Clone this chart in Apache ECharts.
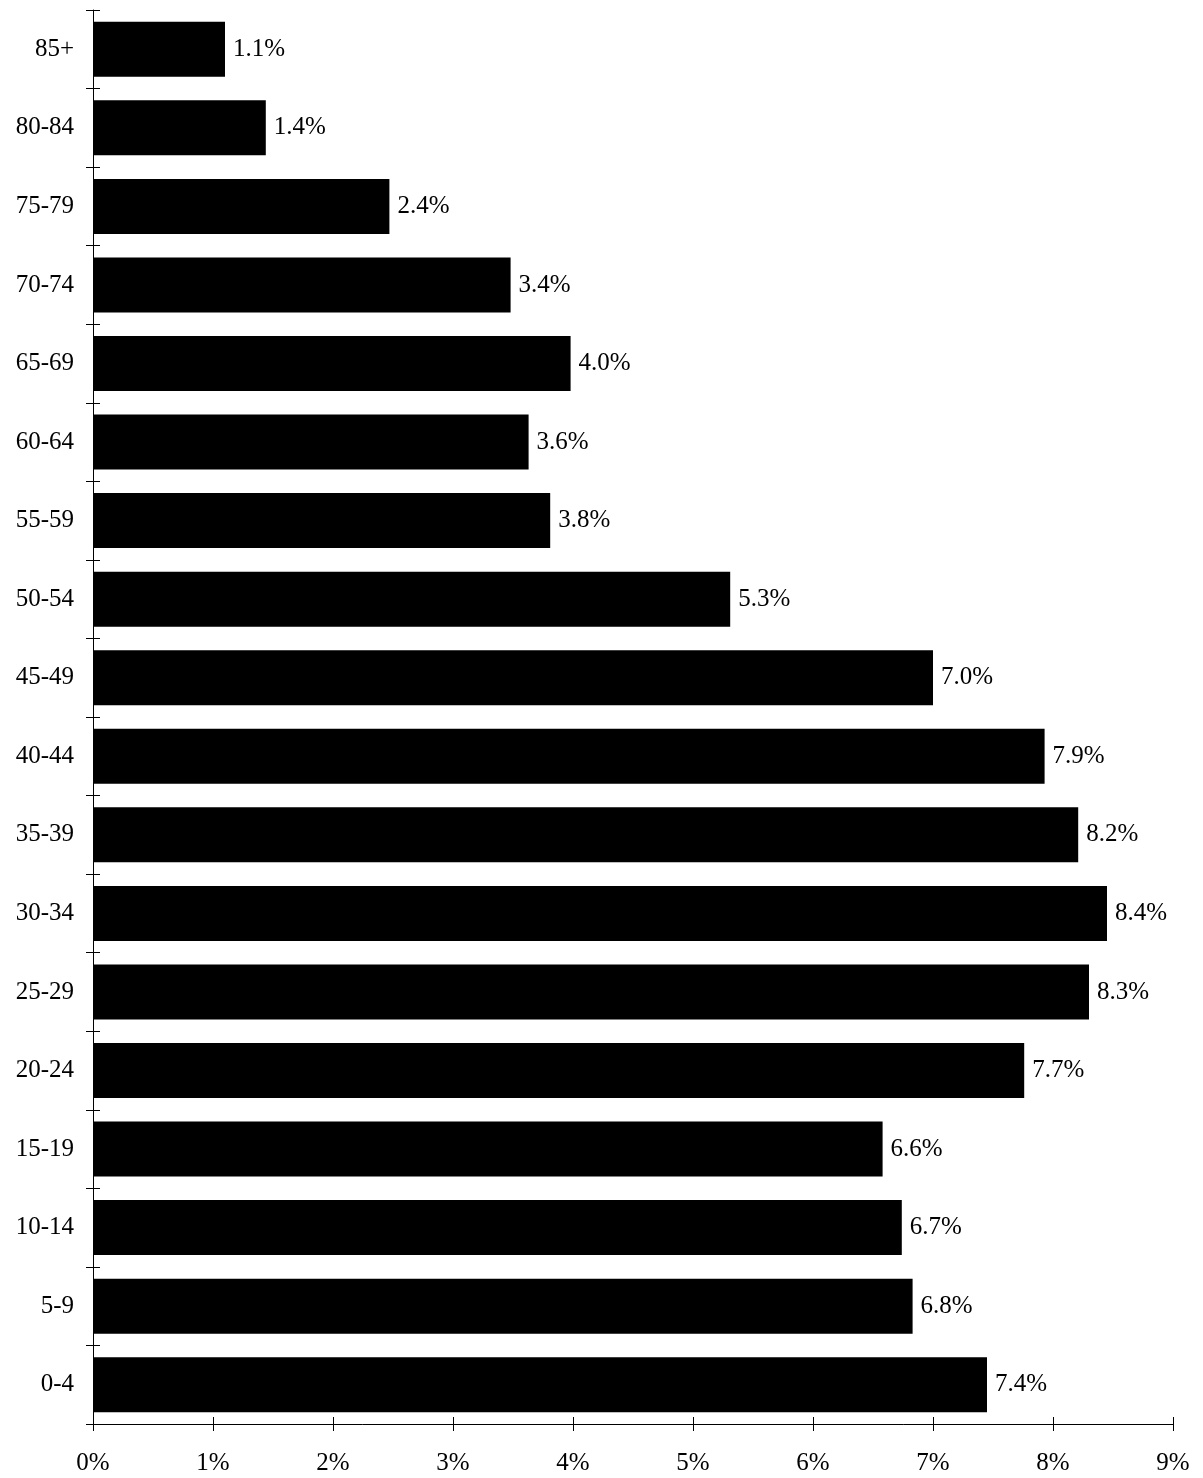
<!DOCTYPE html>
<html><head><meta charset="utf-8">
<script src="https://cdn.jsdelivr.net/npm/echarts@6/dist/echarts.min.js"></script>
<style>html,body{margin:0;padding:0;background:#fff}#c{width:1203px;height:1478px}</style>
</head><body><div id="c"></div>
<script>
const categories = ['0-4','5-9','10-14','15-19','20-24','25-29','30-34','35-39','40-44','45-49','50-54','55-59','60-64','65-69','70-74','75-79','80-84','85+'];
const values = [7.45,6.83,6.74,6.58,7.76,8.3,8.45,8.21,7.93,7.0,5.31,3.81,3.63,3.98,3.48,2.47,1.44,1.1];
const valueLabels = ['7.4%','6.8%','6.7%','6.6%','7.7%','8.3%','8.4%','8.2%','7.9%','7.0%','5.3%','3.8%','3.6%','4.0%','3.4%','2.4%','1.4%','1.1%'];
const xTicks = [0,1,2,3,4,5,6,7,8,9];

const font = '"Liberation Serif","DejaVu Serif",serif';
const chart = echarts.init(document.getElementById('c'));
const lineStyle = {color:'#000', width:1};
chart.setOption({
  animation:false,
  backgroundColor:'#fff',
  grid:{left:93,right:30,top:10,bottom:54,containLabel:false},
  xAxis:[
    {type:'value',min:xTicks[0],max:xTicks[xTicks.length-1],interval:1,position:'bottom',
     axisLine:{show:true,lineStyle},axisTick:{show:true,length:7,lineStyle},
     splitLine:{show:false},
     axisLabel:{formatter:v=>v+'%',fontFamily:font,fontSize:25,color:'#000',margin:27}},
    {type:'value',min:xTicks[0],max:xTicks[xTicks.length-1],interval:1,position:'bottom',
     axisLine:{show:false},axisTick:{show:true,inside:true,length:7,lineStyle},
     splitLine:{show:false},axisLabel:{show:false}}
  ],
  yAxis:[
    {type:'category',data:categories,position:'left',
     axisLine:{show:true,lineStyle},axisTick:{show:true,length:7,lineStyle},
     axisLabel:{fontFamily:font,fontSize:25,color:'#000',margin:19}},
    {type:'category',data:categories,position:'left',
     axisLine:{show:false},axisTick:{show:true,inside:true,length:7,lineStyle},
     axisLabel:{show:false}}
  ],
  series:[{
    type:'bar',xAxisIndex:0,yAxisIndex:0,data:values,
    barCategoryGap:'30%',
    itemStyle:{color:'#000'},
    label:{show:true,position:'right',distance:8,fontFamily:font,fontSize:25,color:'#000',
      formatter:p=>valueLabels[p.dataIndex]}
  }]
});
</script></body></html>
